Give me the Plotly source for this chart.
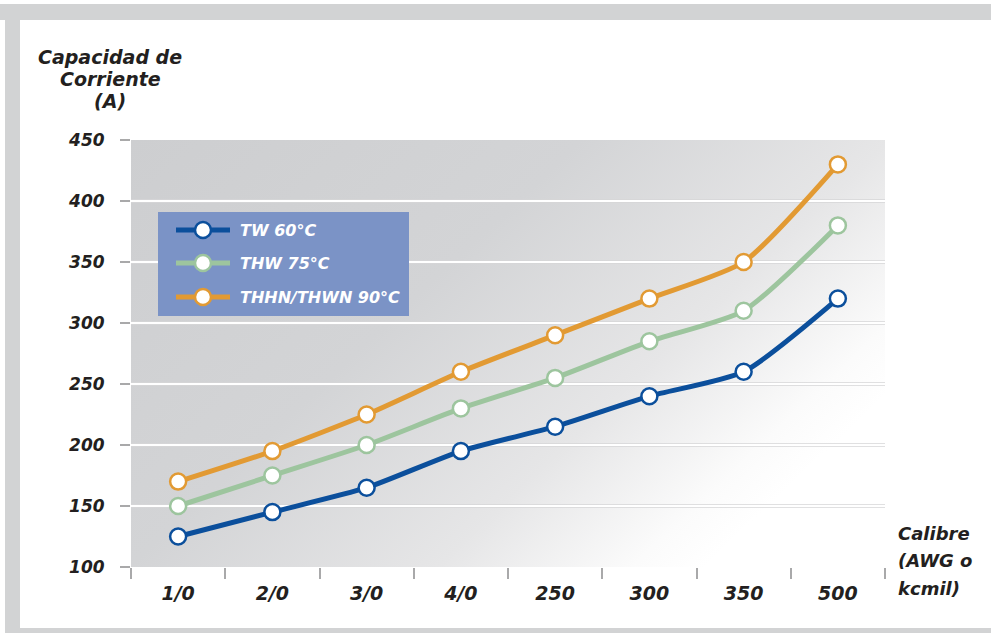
import base64
import plotly.graph_objects as go

# Data
calibres = ["1/0", "2/0", "3/0", "4/0", "250", "300", "350", "500"]
tw_60 = [125, 145, 165, 195, 215, 240, 260, 320]
thw_75 = [150, 175, 200, 230, 255, 285, 310, 380]
thhn_90 = [170, 195, 225, 260, 290, 320, 350, 430]
series_names = ["TW 60°C", "THW 75°C", "THHN/THWN 90°C"]
y_ticks = [100, 150, 200, 250, 300, 350, 400, 450]

# Styling
BLUE = "#0b4f9c"
GREEN = "#9dc59e"
ORANGE = "#e29a33"
INK = "#231f20"
FONT = "DejaVu Sans"

W, H = 991, 633
L, R, T, B = 131, 885, 140, 567  # plot area in pixels


def px(x):
    return (x - L) / (R - L)


def py(y):
    return (B - y) / (B - T)


# Soft diagonal gradient behind the plot area
svg = (
    '<svg xmlns="http://www.w3.org/2000/svg" width="100" height="100" '
    'viewBox="0 0 100 100" preserveAspectRatio="none">'
    '<defs><linearGradient id="g" x1="0" y1="0" x2="1" y2="0.6">'
    '<stop offset="0" stop-color="#cdced0"/>'
    '<stop offset="0.44" stop-color="#d3d4d6"/>'
    '<stop offset="0.74" stop-color="#e6e6e7"/>'
    '<stop offset="0.93" stop-color="#fbfbfb"/>'
    '<stop offset="1" stop-color="#ffffff"/>'
    '</linearGradient></defs>'
    '<rect x="0" y="0" width="100" height="100" fill="url(#g)"/></svg>'
)
bg_src = "data:image/svg+xml;base64," + base64.b64encode(svg.encode()).decode()

fig = go.Figure()

for name, vals, col in zip(series_names, [tw_60, thw_75, thhn_90], [BLUE, GREEN, ORANGE]):
    fig.add_trace(go.Scatter(
        x=calibres, y=vals, name=name, mode="lines+markers",
        line=dict(color=col, width=5, shape="spline", smoothing=0.6),
        marker=dict(size=16, color="white", line=dict(color=col, width=2.5)),
        showlegend=False, cliponaxis=False,
    ))

shapes = []
# outer frame bands
shapes.append(dict(type="rect", xref="paper", yref="paper", layer="below",
                   x0=px(0), x1=px(W), y0=py(4), y1=py(20), line_width=0, fillcolor="#d2d3d4"))
shapes.append(dict(type="rect", xref="paper", yref="paper", layer="below",
                   x0=px(5), x1=px(20), y0=py(4), y1=py(628), line_width=0, fillcolor="#d2d3d4"))
shapes.append(dict(type="rect", xref="paper", yref="paper", layer="below",
                   x0=px(5), x1=px(W), y0=py(628), y1=py(H), line_width=0, fillcolor="#d2d3d4"))

# grid lines: faint shadow with a white highlight
for v in y_ticks[1:-1]:
    shapes.append(dict(type="line", xref="paper", yref="y", layer="below",
                       x0=0, x1=1, y0=v, y1=v, line=dict(color="#d6d6d7", width=3.5)))
    shapes.append(dict(type="line", xref="paper", yref="y", layer="below",
                       x0=0, x1=1, y0=v, y1=v, line=dict(color="#ffffff", width=1.8)))

# legend box
lx0, lx1, ly0, ly1 = 158, 409, 212, 316
shapes.append(dict(type="rect", xref="paper", yref="paper", layer="above",
                   x0=px(lx0), x1=px(lx1), y0=py(ly1), y1=py(ly0),
                   line_width=0, fillcolor="#7b93c6"))
annotations = []
rows = [230, 263, 297]
for name, col, ry in zip(series_names, [BLUE, GREEN, ORANGE], rows):
    shapes.append(dict(type="line", xref="paper", yref="paper", layer="above",
                       x0=px(176), x1=px(230), y0=py(ry), y1=py(ry),
                       line=dict(color=col, width=5)))
    shapes.append(dict(type="circle", xref="paper", yref="paper", layer="above",
                       xsizemode="pixel", ysizemode="pixel",
                       xanchor=px(203), yanchor=py(ry), x0=-8, x1=8, y0=-8, y1=8,
                       fillcolor="white", line=dict(color=col, width=2.5)))
    annotations.append(dict(xref="paper", yref="paper", x=px(238), y=py(ry),
                            xanchor="left", yanchor="middle", showarrow=False,
                            text=name, font=dict(family=FONT, size=16, color="white",
                                                 weight="bold", style="italic")))

# axis titles
for txt, yy in zip(["Capacidad de", "Corriente", "(A)"], [57, 79, 101]):
    annotations.append(dict(xref="paper", yref="paper", x=px(110), y=py(yy),
                            xanchor="center", yanchor="middle", showarrow=False, text=txt,
                            font=dict(family=FONT, size=19, color=INK, weight="bold", style="italic")))
for txt, yy in zip(["Calibre", "(AWG o", "kcmil)"], [533, 560, 588]):
    annotations.append(dict(xref="paper", yref="paper", x=px(896), y=py(yy),
                            xanchor="left", yanchor="middle", showarrow=False, text=txt,
                            font=dict(family=FONT, size=18, color=INK, weight="bold", style="italic")))

fig.add_layout_image(dict(source=bg_src, xref="paper", yref="paper", x=0, y=1,
                          sizex=1, sizey=1, xanchor="left", yanchor="top",
                          sizing="stretch", layer="below"))

tickfont = dict(family=FONT, size=17, color=INK, weight="bold", style="italic")
fig.update_layout(
    width=W, height=H,
    margin=dict(l=L, r=W - R, t=T, b=H - B),
    paper_bgcolor="white", plot_bgcolor="rgba(0,0,0,0)",
    shapes=shapes, annotations=annotations,
    xaxis=dict(type="category", range=[-0.5, 7.5], showgrid=False, zeroline=False,
               showline=False, ticks="outside", tickson="boundaries", ticklen=11,
               tickwidth=2, tickcolor="#a9a9aa", tickfont=dict(tickfont, size=19),
               ticklabelstandoff=13, fixedrange=True),
    yaxis=dict(range=[100, 450], tickvals=y_ticks, showgrid=False, zeroline=False,
               showline=False, ticks="outside", ticklen=10, tickwidth=2,
               tickcolor="#a9a9aa", tickfont=tickfont, ticklabelstandoff=12,
               fixedrange=True),
    showlegend=False,
)

fig.write_html("out.html")
